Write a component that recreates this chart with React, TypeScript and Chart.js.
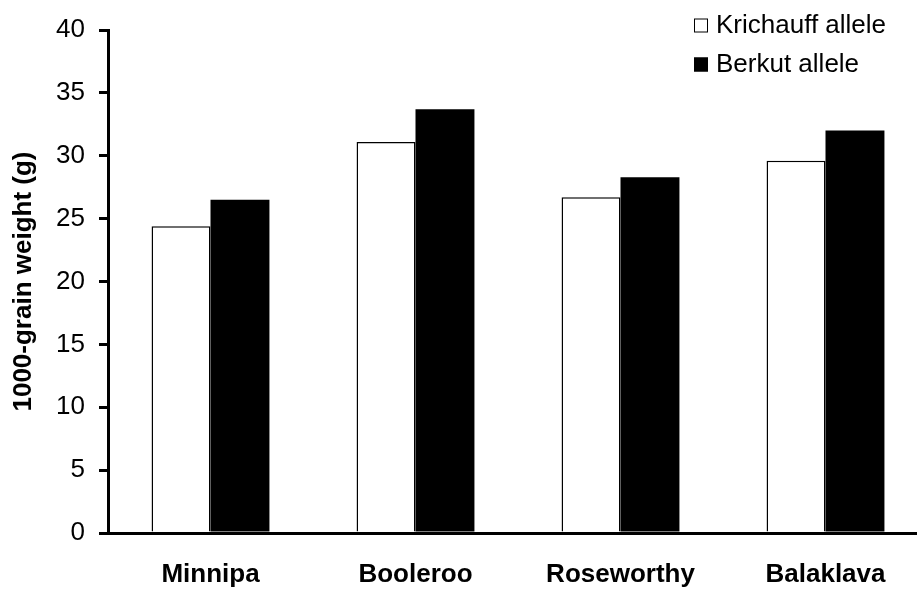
import React, { useEffect, useRef } from "react";
import { Chart, registerables } from "chart.js";

Chart.register(...registerables);

const categories = ["Minnipa", "Booleroo", "Roseworthy", "Balaklava"];
const seriesNames = ["Krichauff allele", "Berkut allele"];
const krichauffValues = [24.4, 31.1, 26.7, 29.6];
const berkutValues = [26.5, 33.7, 28.3, 32.0];
const yMin = 0;
const yMax = 40;
const yStep = 5;
const yTitle = "1000-grain weight (g)";

const FONT = "'Liberation Sans', Arial, sans-serif";

const boxLegend = {
  id: "boxLegend",
  afterDraw(chart: any) {
    const ctx = chart.ctx;
    ctx.save();
    ctx.font = `26px ${FONT}`;
    ctx.textBaseline = "middle";
    ctx.textAlign = "left";
    chart.data.datasets.forEach((ds: any, i: number) => {
      const cy = 25.5 + i * 39;
      const x = 694;
      ctx.fillStyle = ds.backgroundColor;
      ctx.fillRect(x, cy - 7, 14, 14);
      ctx.strokeStyle = "#000";
      ctx.lineWidth = 1;
      ctx.strokeRect(x + 0.5, cy - 6.5, 13, 13);
      ctx.fillStyle = "#000";
      ctx.fillText(ds.label, x + 22, cy);
    });
    ctx.restore();
  },
};

export default function App() {
  const ref = useRef<HTMLCanvasElement>(null);
  useEffect(() => {
    const chart = new Chart(ref.current as HTMLCanvasElement, {
      type: "bar",
      data: {
        labels: categories,
        datasets: [
          {
            label: seriesNames[0],
            data: krichauffValues,
            backgroundColor: "#ffffff",
            borderColor: "#000000",
            borderWidth: 1.5,
            categoryPercentage: 0.575,
            barPercentage: 1,
          },
          {
            label: seriesNames[1],
            data: berkutValues,
            backgroundColor: "#000000",
            borderColor: "#000000",
            borderWidth: 0,
            categoryPercentage: 0.575,
            barPercentage: 1,
          },
        ],
      },
      options: {
        animation: false,
        responsive: false,
        layout: { padding: { top: 30, right: 2, left: 0, bottom: 0 } },
        plugins: { legend: { display: false }, tooltip: { enabled: false } },
        scales: {
          x: {
            type: "category",
            offset: true,
            grid: { display: false, drawTicks: false },
            border: { display: true, color: "#000", width: 3 },
            ticks: {
              color: "#000",
              font: { family: FONT, size: 26, weight: "bold" },
              padding: 26,
              maxRotation: 0,
              autoSkip: false,
            },
            afterFit(scale: any) {
              scale.height = 56;
            },
          },
          y: {
            min: yMin,
            max: yMax,
            ticks: {
              stepSize: yStep,
              color: "#000",
              font: { family: FONT, size: 26 },
              padding: 14,
            },
            grid: {
              display: true,
              drawOnChartArea: false,
              drawTicks: true,
              tickLength: 9,
              color: "#000",
              lineWidth: 3,
            },
            border: { display: true, color: "#000", width: 3 },
            title: {
              display: true,
              text: yTitle,
              color: "#000",
              font: { family: FONT, size: 26, weight: "bold" },
              padding: { top: 8, bottom: 0 },
            },
            afterFit(scale: any) {
              scale.width = 108;
            },
          },
        },
      } as any,
      plugins: [boxLegend],
    });
    return () => chart.destroy();
  }, []);
  return (
    <div
      style={{
        position: "absolute",
        left: 0,
        top: 0,
        width: 917,
        height: 589,
        overflow: "hidden",
        background: "#fff",
      }}
    >
      <canvas ref={ref} width={930} height={589} style={{ display: "block" }} />
    </div>
  );
}
